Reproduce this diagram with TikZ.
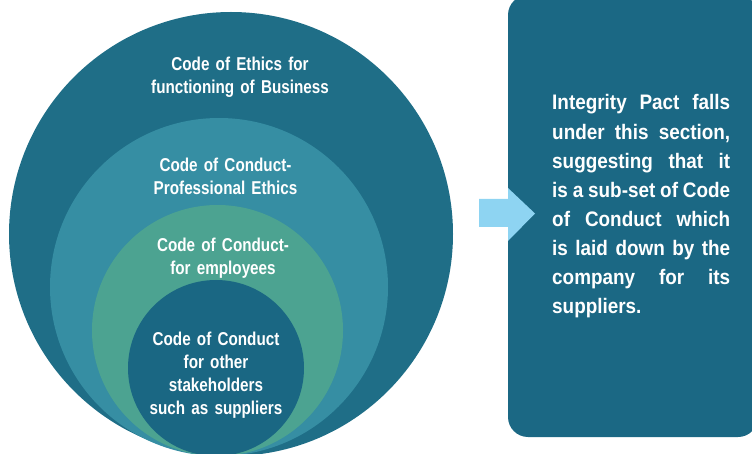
\documentclass[tikz,border=0pt]{standalone}
\usepackage{fontspec}
\usepackage{xcolor}
\setmainfont{Liberation Sans}
\newfontfamily\ringfont{Liberation Sans}[FakeStretch=0.82]
\newfontfamily\pactfont{Liberation Sans}[FakeStretch=0.90]
\usetikzlibrary{positioning}
\definecolor{ethicsblue}{RGB}{31,110,135}
\definecolor{profblue}{RGB}{54,142,163}
\definecolor{employgreen}{RGB}{76,163,145}
\definecolor{supplyblue}{RGB}{26,103,131}
\definecolor{pactblue}{RGB}{27,104,132}
\definecolor{arrowblue}{RGB}{142,212,242}
\tikzset{
  ring text/.style={text=white, align=center, text width=220pt, inner sep=0pt, anchor=base,
    font=\ringfont\bfseries\fontsize{18.6}{23}\selectfont},
  pact box/.style={fill=pactblue, rounded corners=20pt, inner sep=0pt,
    minimum width=250pt, minimum height=442pt},
  pact text/.style={text=white, align=justify, text width=178pt, inner sep=0pt,
    font=\pactfont\bfseries\fontsize{21}{29.1}\selectfont}
}

\begin{document}
\begin{tikzpicture}[x=1pt,y=-1pt]
	\clip (0,0) rectangle (752,454);
	% nested rings, all touching at the bottom
	\fill[color=ethicsblue] (231,234) circle (222pt);
	\fill[color=profblue] (219,287) circle (169pt);
	\fill[color=employgreen] (217.5,330.5) circle (125.5pt);
	\fill[color=supplyblue] (216,368) circle (88pt);
	\node[ring text] (ethics) at (240,71) {Code of Ethics for\\functioning of Business};
	\node[ring text] (professional) at (225.5,172) {Code of Conduct-\\Professional Ethics};
	\node[ring text] (employees) at (223,252) {Code of Conduct-\\for employees};
	\node[ring text] (suppliers) at (216,345) {Code of Conduct\\for other\\stakeholders\\such as suppliers};
	% box on the right
	\node[pact box] (pact) at (633,216) {};
	\node[pact text, anchor=base west] (pacttext) at (552,110) {Integrity Pact falls\linebreak under this section,\linebreak suggesting that it\linebreak is a sub-set of Code\linebreak of Conduct which\linebreak is laid down by the\linebreak company for its\linebreak suppliers.};
	\fill[color=arrowblue] (479,199) -- (508,199) -- (508,188) -- (535,213.5) -- (508,241) -- (508,227) -- (479,227) -- cycle;
\end{tikzpicture}
\end{document}
